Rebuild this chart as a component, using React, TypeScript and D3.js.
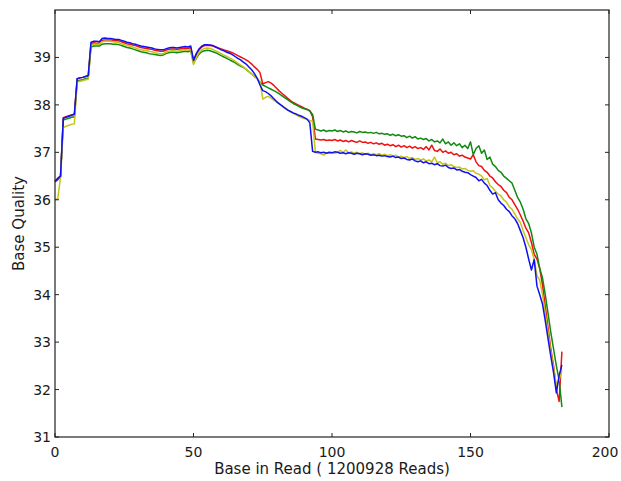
import React from "react";
import * as d3 from "d3";

const W = 621;
const H = 481;
const M = { left: 55, right: 609, top: 10, bottom: 437 };

const xTicks = [0, 50, 100, 150, 200];
const yTicks = [31, 32, 33, 34, 35, 36, 37, 38, 39];
const xLabel = "Base in Read ( 1200928 Reads)";
const yLabel = "Base Quality";

const red = [
  36.4, 36.45, 36.5, 37.73, 37.75, 37.77, 37.79, 37.81, 38.55, 38.57,
  38.58, 38.6, 38.61, 39.3, 39.31, 39.3, 39.3, 39.36, 39.37, 39.37,
  39.37, 39.36, 39.35, 39.35, 39.33, 39.31, 39.29, 39.28, 39.26, 39.25,
  39.23, 39.21, 39.2, 39.19, 39.18, 39.17, 39.15, 39.14, 39.13, 39.13,
  39.15, 39.17, 39.18, 39.18, 39.17, 39.18, 39.19, 39.2, 39.19, 39.21,
  38.92, 39.06, 39.16, 39.22, 39.25, 39.25, 39.25, 39.24, 39.22, 39.2,
  39.18, 39.16, 39.14, 39.12, 39.1, 39.07, 39.04, 39.01, 38.98, 38.95,
  38.91, 38.86, 38.8, 38.75, 38.68, 38.44, 38.47, 38.49, 38.46, 38.41,
  38.35, 38.29, 38.24, 38.19, 38.14, 38.09, 38.05, 38.02, 37.99, 37.96,
  37.93, 37.91, 37.88, 37.75, 37.28, 37.27, 37.26, 37.27, 37.25, 37.26,
  37.25, 37.27, 37.24, 37.26, 37.23, 37.25, 37.22, 37.25, 37.23, 37.21,
  37.24, 37.21, 37.22, 37.19, 37.21, 37.18, 37.2, 37.17, 37.19, 37.15,
  37.17, 37.14, 37.16, 37.12, 37.15, 37.11, 37.14, 37.1, 37.13, 37.09,
  37.12, 37.08, 37.1, 37.06, 37.12, 37.05, 37.15, 37.04, 37.02, 37.07,
  37.0, 37.03, 36.98, 37.0, 36.95, 36.97, 36.92, 36.94, 36.9, 36.88,
  36.86, 36.95, 36.8, 36.72, 36.7, 36.62, 36.58, 36.5, 36.46, 36.38,
  36.32, 36.28, 36.2, 36.15, 36.05, 36.0, 35.9, 35.8, 35.68, 35.55,
  35.4, 35.3, 35.1, 34.85, 34.75, 34.55, 34.2, 33.75, 33.3, 32.85,
  32.5, 32.0, 31.75, 32.8,
];

const green = [
  36.38, 36.42, 36.48, 37.68, 37.7, 37.72, 37.74, 37.75, 38.5, 38.52,
  38.53, 38.55, 38.56, 39.22, 39.24, 39.24, 39.24, 39.28, 39.29, 39.29,
  39.29, 39.28, 39.28, 39.27, 39.25, 39.23, 39.21, 39.2, 39.18, 39.16,
  39.14, 39.12, 39.11, 39.1, 39.08, 39.07, 39.06, 39.05, 39.04, 39.05,
  39.08, 39.1, 39.11, 39.11, 39.1, 39.11, 39.12, 39.13, 39.12, 39.14,
  38.88, 38.98, 39.07, 39.12, 39.14, 39.15, 39.14, 39.12, 39.1, 39.07,
  39.04, 39.01, 38.98, 38.95, 38.92, 38.89, 38.85, 38.82, 38.79, 38.75,
  38.7, 38.65, 38.6, 38.55, 38.48, 38.42, 38.39, 38.36, 38.33, 38.3,
  38.27, 38.23, 38.19, 38.15, 38.11, 38.07, 38.03, 38.0, 37.97, 37.94,
  37.92, 37.9, 37.87, 37.8, 37.49, 37.47, 37.45, 37.47, 37.44, 37.46,
  37.45, 37.47, 37.44, 37.46, 37.43, 37.45, 37.42, 37.44, 37.43, 37.41,
  37.44, 37.42, 37.43, 37.41, 37.42, 37.4, 37.42, 37.39, 37.4, 37.38,
  37.39, 37.36, 37.38, 37.35, 37.37, 37.34, 37.35, 37.31, 37.34, 37.3,
  37.33, 37.28, 37.3, 37.27, 37.29, 37.24, 37.27, 37.22, 37.24, 37.2,
  37.28, 37.18, 37.22, 37.15, 37.2, 37.14, 37.18, 37.1, 37.15, 37.08,
  37.22, 36.95, 37.08, 37.14, 36.98, 37.05, 36.85, 36.9, 36.75, 36.7,
  36.62, 36.58, 36.5, 36.45, 36.4, 36.35, 36.2, 36.05, 35.95, 35.8,
  35.6, 35.5, 35.3, 35.0, 34.85, 34.55, 34.35, 34.0, 33.6, 33.2,
  32.85, 32.5, 32.2, 31.63,
];

const yellow = [
  36.0, 36.02, 36.48, 37.52, 37.55, 37.57, 37.59, 37.6, 38.48, 38.5,
  38.51, 38.53, 38.54, 39.26, 39.28, 39.28, 39.28, 39.33, 39.34, 39.34,
  39.34, 39.33, 39.32, 39.31, 39.29, 39.27, 39.25, 39.24, 39.22, 39.2,
  39.18, 39.16, 39.15, 39.14, 39.13, 39.12, 39.1, 39.09, 39.08, 39.08,
  39.11, 39.13, 39.14, 39.14, 39.13, 39.14, 39.15, 39.16, 39.15, 39.17,
  38.85, 39.0, 39.1, 39.16, 39.19, 39.2, 39.19, 39.17, 39.14, 39.11,
  39.08, 39.05, 39.02, 38.99, 38.96, 38.92, 38.88, 38.84, 38.8, 38.75,
  38.7, 38.65, 38.6, 38.55, 38.5, 38.12, 38.16, 38.18, 38.14, 38.1,
  38.06, 38.02, 37.98, 37.94, 37.9, 37.86, 37.82, 37.79, 37.76, 37.73,
  37.71, 37.69, 37.67, 37.65, 37.0, 36.98, 36.97, 36.94, 36.99, 36.98,
  36.99, 36.98, 37.0, 37.04, 37.0, 37.05, 36.99, 37.01, 36.98, 37.0,
  36.97, 36.99, 36.96, 36.98, 36.95, 36.97, 36.95, 36.97, 36.94, 36.96,
  36.93, 36.95, 36.92, 36.94, 36.9, 36.92, 36.89, 36.91, 36.87, 36.89,
  36.85, 36.87, 36.84, 36.86, 36.82, 36.84, 36.8, 36.9, 36.78, 36.8,
  36.75, 36.77, 36.72, 36.74, 36.7, 36.68, 36.69, 36.65, 36.66, 36.62,
  36.6, 36.61, 36.56, 36.54, 36.5, 36.42, 36.45, 36.3, 36.25, 36.18,
  36.12, 36.08, 36.0, 35.95, 35.85, 35.8, 35.7, 35.6, 35.52, 35.35,
  35.2, 35.05, 34.95, 34.74, 34.4, 34.3, 34.0, 33.6, 33.2, 32.8,
  32.45, 32.1, 32.2, 32.4,
];

const blue = [
  36.38, 36.45, 36.5, 37.72, 37.74, 37.76, 37.78, 37.8, 38.55, 38.57,
  38.58, 38.6, 38.62, 39.32, 39.34, 39.34, 39.33, 39.4, 39.41, 39.4,
  39.4, 39.39, 39.38, 39.38, 39.36, 39.34, 39.32, 39.31, 39.29, 39.28,
  39.26, 39.24, 39.23, 39.22, 39.21, 39.2, 39.18, 39.17, 39.16, 39.16,
  39.18, 39.2, 39.21, 39.21, 39.2, 39.21, 39.22, 39.23, 39.22, 39.24,
  38.94, 39.08, 39.18, 39.24, 39.27, 39.27, 39.26, 39.25, 39.22, 39.19,
  39.16, 39.14, 39.11, 39.09, 39.06, 39.02, 38.98, 38.95, 38.9, 38.86,
  38.8, 38.74, 38.66, 38.56, 38.42, 38.3, 38.28, 38.24, 38.19, 38.13,
  38.07, 38.02, 37.98, 37.93, 37.89, 37.86, 37.83, 37.81, 37.78, 37.76,
  37.73, 37.7, 37.62, 37.02, 37.0, 37.01, 36.99, 37.0, 36.98, 37.0,
  36.99, 37.01, 37.0, 36.98, 36.99, 36.97, 36.99, 36.98, 36.96, 36.98,
  36.97, 36.95, 36.97, 36.96, 36.94, 36.95, 36.93, 36.94, 36.92, 36.93,
  36.91, 36.9, 36.92, 36.89, 36.9, 36.87, 36.88, 36.85, 36.84, 36.86,
  36.82, 36.8, 36.82, 36.78, 36.8, 36.76, 36.77, 36.74, 36.76, 36.72,
  36.71, 36.73, 36.68, 36.66, 36.67, 36.63, 36.64, 36.6, 36.58, 36.57,
  36.53, 36.5, 36.47, 36.4, 36.43, 36.35, 36.3, 36.2, 36.12, 36.15,
  36.0, 35.93, 35.88, 35.8, 35.75, 35.66, 35.6, 35.5, 35.35, 35.2,
  35.0, 34.75, 34.52, 34.74, 34.18, 34.0, 33.8, 33.45, 33.07, 32.7,
  32.35, 31.93, 32.3, 32.52,
];

const series = [
  { name: "red", values: red, color: "#f01010" },
  { name: "green", values: green, color: "#108a10" },
  { name: "yellow", values: yellow, color: "#c4c41a" },
  { name: "blue", values: blue, color: "#1010f0" },
];

export default function App() {
  const x = d3.scaleLinear().domain([0, 200]).range([M.left, M.right]);
  const y = d3.scaleLinear().domain([31, 40]).range([M.bottom, M.top]);
  const line = d3
    .line<number>()
    .x((_, i) => x(i))
    .y((d) => y(d));
  const font = "'DejaVu Sans', sans-serif";
  const fs = 14;
  const fsLabel = 15;
  const tl = 4;
  return (
    <svg
      width={W}
      height={H}
      style={{ position: "absolute", left: 0, top: 0, background: "#fff" }}
    >
      <rect x={0} y={0} width={W} height={H} fill="#fff" />
      {series.map((s) => (
        <path
          key={s.name}
          d={line(s.values) || ""}
          fill="none"
          stroke={s.color}
          strokeWidth={1.5}
          strokeLinejoin="round"
        />
      ))}
      <rect
        x={M.left}
        y={M.top}
        width={M.right - M.left}
        height={M.bottom - M.top}
        fill="none"
        stroke="#222"
        strokeWidth={1.2}
      />
      {xTicks.map((t) => (
        <g key={"x" + t}>
          <line x1={x(t)} x2={x(t)} y1={M.bottom} y2={M.bottom - tl} stroke="#222" />
          <line x1={x(t)} x2={x(t)} y1={M.top} y2={M.top + tl} stroke="#222" />
          <text
            x={Math.min(x(t), W - 16)}
            y={M.bottom + 20}
            textAnchor="middle"
            fontFamily={font}
            fontSize={fs}
            fill="#1a1a1a"
          >
            {t}
          </text>
        </g>
      ))}
      {yTicks.map((t) => (
        <g key={"y" + t}>
          <line x1={M.left} x2={M.left + tl} y1={y(t)} y2={y(t)} stroke="#222" />
          <line x1={M.right} x2={M.right - tl} y1={y(t)} y2={y(t)} stroke="#222" />
          <text
            x={M.left - 4}
            y={y(t) + 5}
            textAnchor="end"
            fontFamily={font}
            fontSize={fs}
            fill="#1a1a1a"
          >
            {t}
          </text>
        </g>
      ))}
      <text
        x={(M.left + M.right) / 2}
        y={474}
        textAnchor="middle"
        fontFamily={font}
        fontSize={fsLabel}
        fill="#1a1a1a"
      >
        {xLabel}
      </text>
      <text
        transform={`translate(24, ${(M.top + M.bottom) / 2}) rotate(-90)`}
        textAnchor="middle"
        fontFamily={font}
        fontSize={fsLabel}
        fill="#1a1a1a"
      >
        {yLabel}
      </text>
    </svg>
  );
}
